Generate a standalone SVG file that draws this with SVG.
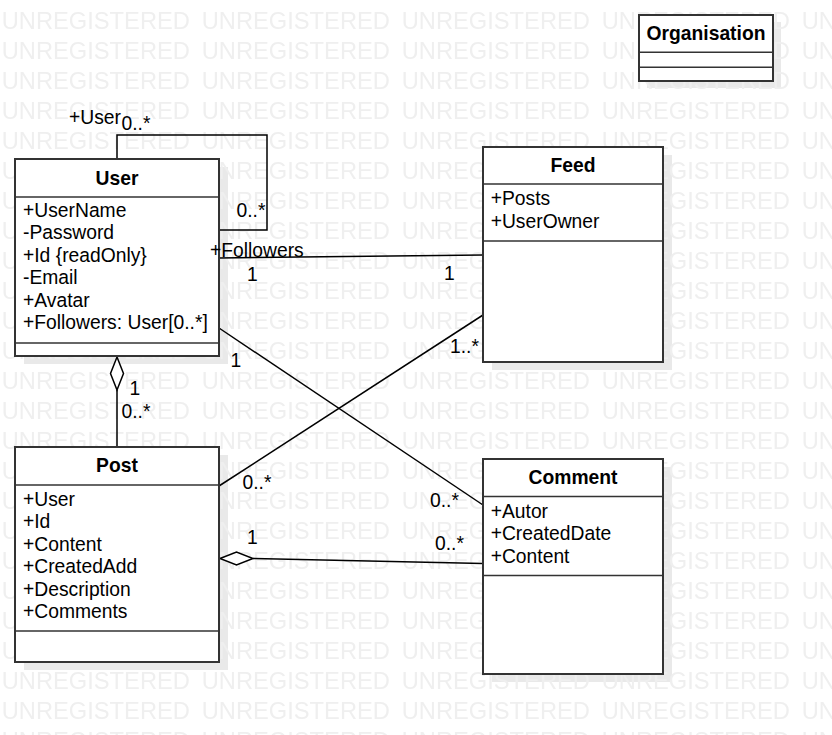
<svg xmlns="http://www.w3.org/2000/svg" width="832" height="735" viewBox="0 0 832 735">
<style>
text{font-family:"Liberation Sans",Arial,Helvetica,sans-serif;fill:#000}
.wm{font-size:23.7px;fill:#efefef}
.hd{font-size:19.3px;font-weight:bold;text-anchor:middle}
.at{font-size:19.3px}
.lb{font-size:19.3px}
.box{fill:#fff;stroke:#333;stroke-width:2}
.div{stroke:#333;stroke-width:1.6;fill:none}
.sh{fill:#e9e9e9}
.ln{stroke:#000;stroke-width:1.5;fill:none}
.dm{fill:#fff;stroke:#000;stroke-width:1.5}
</style>
<defs>
<pattern id="wmp" x="0" y="0" width="200" height="30" patternUnits="userSpaceOnUse">
<text class="wm" x="1.7" y="29">UNREGISTERED</text>
</pattern>
</defs>
<rect width="832" height="735" fill="#fff"/>
<g id="shadows">
<rect class="sh" x="24" y="167" width="204" height="197"/>
<rect class="sh" x="24" y="455" width="204" height="215"/>
<rect class="sh" x="492" y="155" width="180" height="215"/>
<rect class="sh" x="492" y="467" width="180" height="215"/>
<rect class="sh" x="647" y="22" width="134" height="66"/>
</g>
<rect id="watermark" width="832" height="735" fill="url(#wmp)"/>
<g id="connectors">
<path class="ln" d="M117,159 V135 H267 V230 H219"/>
<line class="ln" x1="219" y1="258" x2="483" y2="255"/>
<line class="ln" x1="219" y1="328" x2="483" y2="505"/>
<line class="ln" x1="219" y1="486" x2="483" y2="315"/>
<line class="ln" x1="253" y1="558.5" x2="483" y2="563.5"/>
<path class="dm" d="M220,558.5 L236.5,552 L253,558.5 L236.5,565 Z"/>
<line class="ln" x1="117" y1="390" x2="117" y2="447"/>
<path class="dm" d="M117,357 L123.5,373.5 L117,390 L110.5,373.5 Z"/>
</g>
<g id="User">
<rect class="box" x="15" y="159" width="204" height="197"/>
<line class="div" x1="15" y1="197" x2="219" y2="197"/>
<line class="div" x1="15" y1="343" x2="219" y2="343"/>
<text class="hd" x="117" y="185">User</text>
<text class="at" x="23" y="216.7">+UserName</text>
<text class="at" x="23" y="239.2">-Password</text>
<text class="at" x="23" y="261.7">+Id {readOnly}</text>
<text class="at" x="23" y="284.2">-Email</text>
<text class="at" x="23" y="306.7">+Avatar</text>
<text class="at" x="23" y="329.2">+Followers: User[0..*]</text>
</g>
<g id="Post">
<rect class="box" x="15" y="447" width="204" height="215"/>
<line class="div" x1="15" y1="485" x2="219" y2="485"/>
<line class="div" x1="15" y1="631" x2="219" y2="631"/>
<text class="hd" x="117" y="472">Post</text>
<text class="at" x="23" y="505.7">+User</text>
<text class="at" x="23" y="528.2">+Id</text>
<text class="at" x="23" y="550.7">+Content</text>
<text class="at" x="23" y="573.2">+CreatedAdd</text>
<text class="at" x="23" y="595.7">+Description</text>
<text class="at" x="23" y="618.2">+Comments</text>
</g>
<g id="Feed">
<rect class="box" x="483" y="147" width="180" height="215"/>
<line class="div" x1="483" y1="184" x2="663" y2="184"/>
<line class="div" x1="483" y1="241" x2="663" y2="241"/>
<text class="hd" x="573" y="171.7">Feed</text>
<text class="at" x="490.7" y="205">+Posts</text>
<text class="at" x="490.7" y="227.5">+UserOwner</text>
</g>
<g id="Comment">
<rect class="box" x="483" y="459" width="180" height="215"/>
<line class="div" x1="483" y1="496.5" x2="663" y2="496.5"/>
<line class="div" x1="483" y1="575.5" x2="663" y2="575.5"/>
<text class="hd" x="573" y="484">Comment</text>
<text class="at" x="490.7" y="517.7">+Autor</text>
<text class="at" x="490.7" y="540.2">+CreatedDate</text>
<text class="at" x="490.7" y="562.7">+Content</text>
</g>
<g id="Organisation">
<rect class="box" x="639" y="15" width="134" height="66"/>
<line class="div" x1="639" y1="52.3" x2="773" y2="52.3"/>
<line class="div" x1="639" y1="67.3" x2="773" y2="67.3"/>
<text class="hd" x="706" y="40">Organisation</text>
</g>
<g id="connector-labels">
<text class="lb" x="69" y="123.5">+User</text>
<text class="lb" x="121.5" y="129.5">0..*</text>
<text class="lb" x="236.5" y="216.5">0..*</text>
<text class="lb" x="210" y="256.5">+Followers</text>
<text class="lb" x="247" y="280.5">1</text>
<text class="lb" x="444" y="280">1</text>
<text class="lb" x="230.5" y="366.5">1</text>
<text class="lb" x="430" y="506.5">0..*</text>
<text class="lb" x="242.5" y="489">0..*</text>
<text class="lb" x="450" y="353">1..*</text>
<text class="lb" x="247" y="544">1</text>
<text class="lb" x="435" y="550">0..*</text>
<text class="lb" x="129.5" y="395">1</text>
<text class="lb" x="121.5" y="417.5">0..*</text>
</g>
</svg>
